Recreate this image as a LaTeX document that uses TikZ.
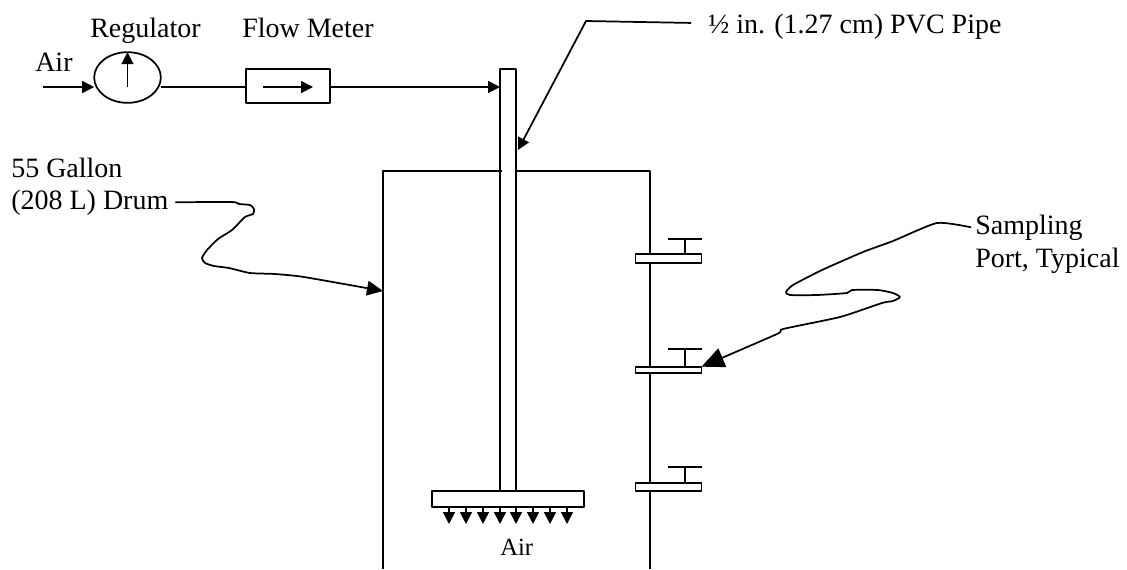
\documentclass[tikz,border=0pt]{standalone}
\usepackage{fontspec}
\setmainfont{Liberation Serif}
\usetikzlibrary{arrows.meta,shapes.geometric}
\tikzset{
  wire/.style={line width=1.3pt,line join=round},
  smalltip/.style={wire,-{Triangle[length=9pt,width=9pt]}},
  midtip/.style={wire,-{Triangle[length=12pt,width=11pt]}},
  bigtip/.style={wire,-{Triangle[length=17pt,width=15pt]}},
  part/.style={draw,wire,fill=white,inner sep=0pt,outer sep=0pt},
  txt/.style={anchor=base west,inner sep=0pt,font=\fontsize{21}{24}\selectfont},
}
\begin{document}
\begin{tikzpicture}[x=0.75pt,y=-0.75pt]
\useasboundingbox (0,0) rectangle (1127,569);

% to write labels
\node (airlabel) [txt] at (35,71) {Air};
\node (reglabel) [txt] at (90,37) {Regulator};
\node (flowlabel) [txt] at (242,37) {Flow Meter};
\node (pipelabel) [txt] at (708,33) {½ in. (1.27 cm) PVC Pipe};
\node (gallonlabel) [txt] at (11,177) {55 Gallon};
\node (drumlabel) [txt] at (11,209) {(208 L) Drum};
\node (samplabel) [txt] at (975,234) {Sampling};
\node (portlabel) [txt] at (975,267) {Port, Typical};
\node (jetlabel) [txt,font=\fontsize{18.5}{22}\selectfont] at (500,555) {Air};

% to draw pipe and diffuser
\node (pipe) [part,minimum width=12pt,minimum height=316.5pt] at (508,280) {};
\node (diffuser) [part,minimum width=114pt,minimum height=12pt] at (508,499) {};

% to draw drum
\coordinate (drumbl) at (383,569);
\coordinate (drumtl) at (383,171);
\coordinate (drumtm) at (502,171);
\coordinate (drumtn) at (517,171);
\coordinate (drumtr) at (650,171);
\coordinate (drumbr) at (650,569);
\draw [wire] (drumbl) -- (drumtl) -- (drumtm);
\draw [wire] (drumtn) -- (drumtr) -- (drumbr);

% to draw air line
\node (regulator) [part,ellipse,minimum width=50pt,minimum height=38pt] at (127.5,77.5) {};
\node (flowmeter) [part,minimum width=63pt,minimum height=25.5pt] at (288,86) {};
\coordinate (airin) at (43,87);
\coordinate (regtail) at (127.5,87);
\coordinate (flowtail) at (263,87);
\coordinate (flowhead) at (313,87);
\draw [smalltip] (airin) -- (regulator.west |- airin);
\draw [smalltip] (regtail) -- (regulator.north);
\draw [wire] (regulator.east |- airin) -- (flowmeter.west |- airin);
\draw [smalltip] (flowtail) -- (flowhead);
\draw [smalltip] (flowmeter.east |- airin) -- (pipe.west |- airin);

% to draw sampling ports
\foreach \name/\y/\h/\top in {portA/258.5/6.75/239,portB/370/5/349,portC/487/6/467}{
  \node (\name) [part,minimum width=49.5pt,minimum height=\h pt] at (668.5,\y) {};
  \coordinate (\name t) at (685,\top);
  \coordinate (\name l) at (668,\top);
  \coordinate (\name r) at (702,\top);
  \draw [wire] (\name t) -- (\name t |- \name.north);
  \draw [wire] (\name l) -- (\name r);
}

% to draw air jets
\foreach \x in {449,466,483,500,516,533,550,567}{
  \coordinate (jet\x) at (\x,524);
  \draw [smalltip] (diffuser.south -| jet\x) -- (jet\x);
}

% to draw leaders
\coordinate (pipebend) at (586,21);
\coordinate (pipeside) at (518,150);
\draw [smalltip] ([xshift=-12.75pt,yshift=2.5pt]pipelabel.west) -- (pipebend) -- (pipeside);

\coordinate (drumside) at (383,291);
\draw [midtip] plot [smooth,tension=0.35] coordinates {([xshift=5pt]drumlabel.east) (232,202) (239,204) (250,205) (254,209) (253,214) (245,217) (232,230) (218,239) (207,250) (202,258) (205,263) (214,266) (229,268) (250,273) (275,274) (304,277) (drumside)};

\draw [bigtip] plot [smooth,tension=0.35] coordinates {([xshift=-3pt]samplabel.west) (937,223) (893,241) (863,252) (822,270) (793,285) (786,292) (790,295) (817,295) (847,293) (852,290) (878,290) (893,293) (900,297) (893,301) (882,303) (840,317) (783,329) (777,334) (portB.north east)};
\end{tikzpicture}
\end{document}
